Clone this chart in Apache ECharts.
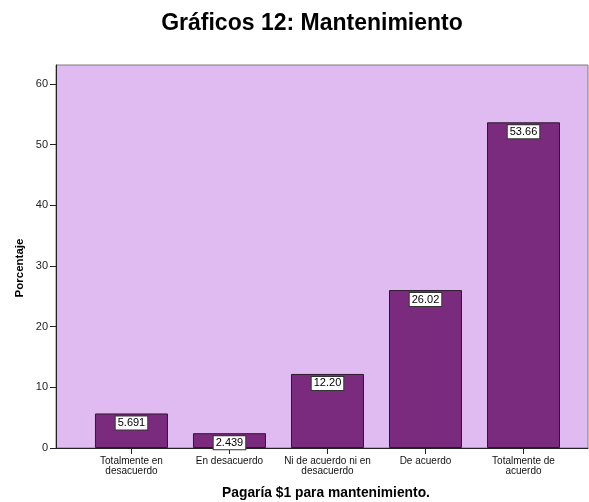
<!DOCTYPE html>
<html>
<head>
<meta charset="utf-8">
<script src="https://cdn.jsdelivr.net/npm/echarts@6/dist/echarts.min.js"></script>
<style>html,body{margin:0;padding:0;background:#fff;}#c{width:589px;height:502px;}</style>
</head>
<body>
<div id="c"></div>
<script>
var titleText = 'Gráficos 12: Mantenimiento';
var xAxisName = 'Pagaría $1 para mantenimiento.';
var yAxisName = 'Porcentaje';
var categories = ['Totalmente en\ndesacuerdo', 'En desacuerdo', 'Ni de acuerdo ni en\ndesacuerdo', 'De acuerdo', 'Totalmente de\nacuerdo'];
var values = [5.691, 2.439, 12.20, 26.02, 53.66];
var yTicks = [0, 10, 20, 30, 40, 50, 60];
var xTicks = [0, 1, 2, 3, 4];

var chart = echarts.init(document.getElementById('c'), null, {renderer: 'canvas'});
var FONT = '"Liberation Sans", Arial, sans-serif';
var option = {
  animation: false,
  backgroundColor: '#ffffff',
  title: {
    text: titleText, left: 307, top: 7, textAlign: 'center',
    textStyle: {fontFamily: FONT, fontWeight: 'bold', fontSize: 23, color: '#000'}
  },
  graphic: [
    {type: 'text', x: 20, y: 268, rotation: Math.PI / 2, style: {text: yAxisName, font: 'bold 11.5px ' + FONT, fill: '#000', textAlign: 'center', textVerticalAlign: 'middle'}},
    {type: 'text', x: 326, y: 493, style: {text: xAxisName, font: 'bold 13.8px ' + FONT, fill: '#000', textAlign: 'center', textVerticalAlign: 'middle'}}
  ],
  grid: {left: 56, top: 65, width: 532, height: 383, show: true, backgroundColor: '#E0BBF2', borderColor: '#7a7a7a', borderWidth: 1},
  xAxis: {
    type: 'value', min: -0.770, max: 4.658,
    axisLine: {show: true, onZero: false, lineStyle: {color: '#222', width: 1}},
    axisTick: {show: true, length: 6, customValues: xTicks, lineStyle: {color: '#222'}},
    axisLabel: {customValues: xTicks, margin: 8, fontFamily: FONT, fontSize: 10, lineHeight: 10, color: '#111',
      formatter: function (v) { return categories[Math.round(v)] || ''; }},
    splitLine: {show: false}
  },
  yAxis: {
    type: 'value', min: 0, max: 63.1,
    axisLine: {show: true, onZero: false, lineStyle: {color: '#222', width: 1}},
    axisTick: {show: true, length: 6, customValues: yTicks, lineStyle: {color: '#222'}},
    axisLabel: {customValues: yTicks, margin: 8, fontFamily: FONT, fontSize: 11, color: '#222'},
    splitLine: {show: false}
  },
  series: [{
    type: 'bar',
    barWidth: 73,
    data: values.map(function (v, i) { return [i, v]; }),
    itemStyle: {color: '#7B2B7D', borderColor: '#2b1a2b', borderWidth: 1},
    label: {
      show: true, position: 'insideTop', distance: 3,
      formatter: function (p) { return p.value[1].toPrecision(4); },
      fontFamily: FONT, fontSize: 11, color: '#000',
      backgroundColor: '#fff', borderColor: '#333', borderWidth: 1, padding: [1, 2, 1, 2]
    }
  }]
};
chart.setOption(option);
</script>
</body>
</html>
